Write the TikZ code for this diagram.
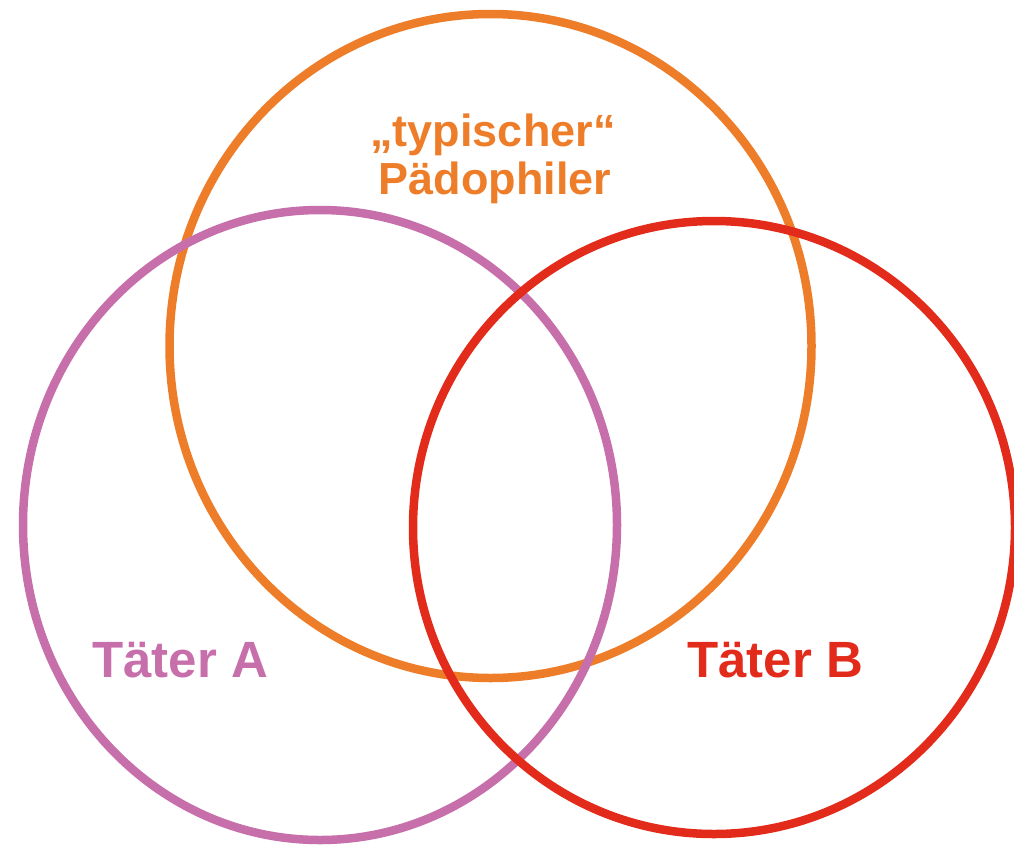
\documentclass[tikz,border=0pt]{standalone}
\usepackage{fontspec}
\setmainfont{Liberation Sans}
\definecolor{corange}{HTML}{EE7D2A}
\definecolor{cpurple}{HTML}{C76FAB}
\definecolor{cred}{HTML}{E22B1A}
\begin{document}
\begin{tikzpicture}[x=1pt,y=-1pt,
  ring/.style={line width=8.5pt},
  lbl/.style={font=\bfseries\fontsize{#1}{#1}\selectfont, inner sep=0pt, anchor=base west}]
\useasboundingbox (0,0) rectangle (1014,846);
\draw[ring, corange] (490.5,346) ellipse [x radius=321, y radius=332];
\draw[ring, cpurple] (320,525) ellipse [x radius=297, y radius=315];
\draw[ring, cred] (714,527.5) ellipse [x radius=301, y radius=306.5];
\node[lbl=45, corange, anchor=base] (t1) at (493,146) {„typischer“};
\node[lbl=45, corange, anchor=base] (t2) at (495,194) {Pädophiler};
\node[lbl=51, cpurple] (ta) at (92,677) {Täter A};
\node[lbl=51, cred] (tb) at (687,677) {Täter B};
\end{tikzpicture}
\end{document}
